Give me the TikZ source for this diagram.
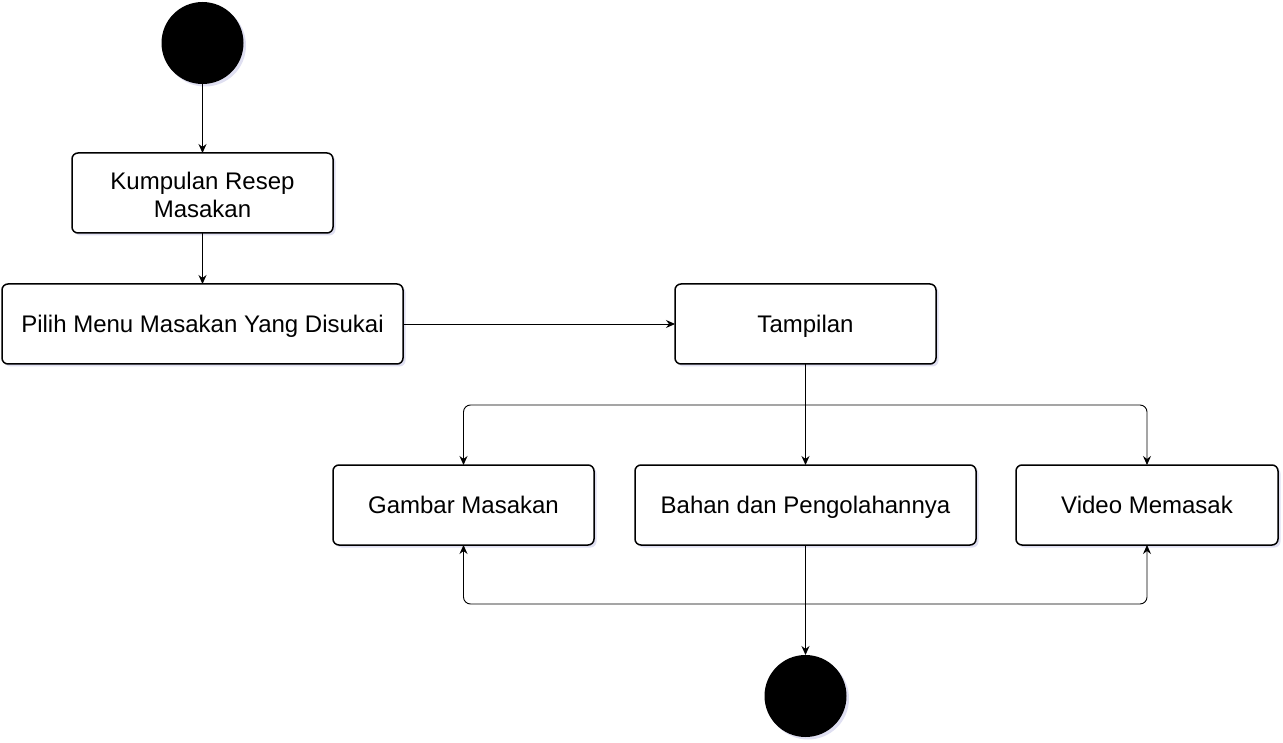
\documentclass[tikz,border=0pt]{standalone}
\usepackage{fontspec}
\setsansfont{Liberation Sans}
\usepackage{tikz}
\usetikzlibrary{arrows.meta,shapes,positioning,shadows}
\tikzset{
    basic/.style  = {draw, font=\sffamily\fontsize{24}{28}\selectfont, rectangle},
    activity/.style = {basic, rounded corners=6pt, line width=1.5pt, fill=white, align=center,
        minimum height=80pt, inner sep=0pt, outer sep=0pt,
        drop shadow={opacity=0.18, shadow xshift=2.5pt, shadow yshift=-2.5pt, fill=blue!40!gray}},
    single/.style = {activity, text height=17.5pt, text depth=0pt},
    terminal/.style = {circle, fill=black, minimum size=82pt, inner sep=0pt, outer sep=0pt,
        drop shadow={opacity=0.18, shadow xshift=2.5pt, shadow yshift=-2.5pt, fill=blue!40!gray}},
    flow/.style = {-{Stealth[length=9pt,width=8pt,inset=3pt]}, line width=0.9pt, rounded corners=7pt}
}

\begin{document}
\begin{tikzpicture}[x=1pt, y=-1pt]
	\useasboundingbox (0,0) rectangle (1283,743);
	% start and end
	\node[terminal] (start) at (202.5,43) {};
	\node[terminal] (finish) at (805.5,696) {};
	% activities
	\node[activity, minimum width=261pt] (kumpulan) at (202.5,193) {\strut\raisebox{-2pt}{Kumpulan Resep}\\\raisebox{-2pt}{Masakan}};
	\node[single, minimum width=401pt] (pilih) at (202.5,324) {Pilih Menu Masakan Yang Disukai};
	\node[single, minimum width=261pt] (tampilan) at (805.5,324) {Tampilan};
	\node[single, minimum width=261pt] (gambar) at (463.5,505) {Gambar Masakan};
	\node[single, minimum width=341pt] (bahan) at (805.5,505) {Bahan dan Pengolahannya};
	\node[single, minimum width=262pt] (video) at (1147,505) {Video Memasak};
	\coordinate (split) at (805.5,405);
	\coordinate (join) at (805.5,604);
	% connectors
	\draw[flow] (start) -- (kumpulan);
	\draw[flow] (kumpulan) -- (pilih);
	\draw[flow] (pilih) -- (tampilan);
	\draw[flow] (tampilan) -- (bahan);
	\draw[flow] (split) -| (gambar);
	\draw[flow] (split) -| (video);
	\draw[flow] (bahan) -- (finish);
	\draw[flow] (join) -| (gambar);
	\draw[flow] (join) -| (video);
\end{tikzpicture}
\end{document}
